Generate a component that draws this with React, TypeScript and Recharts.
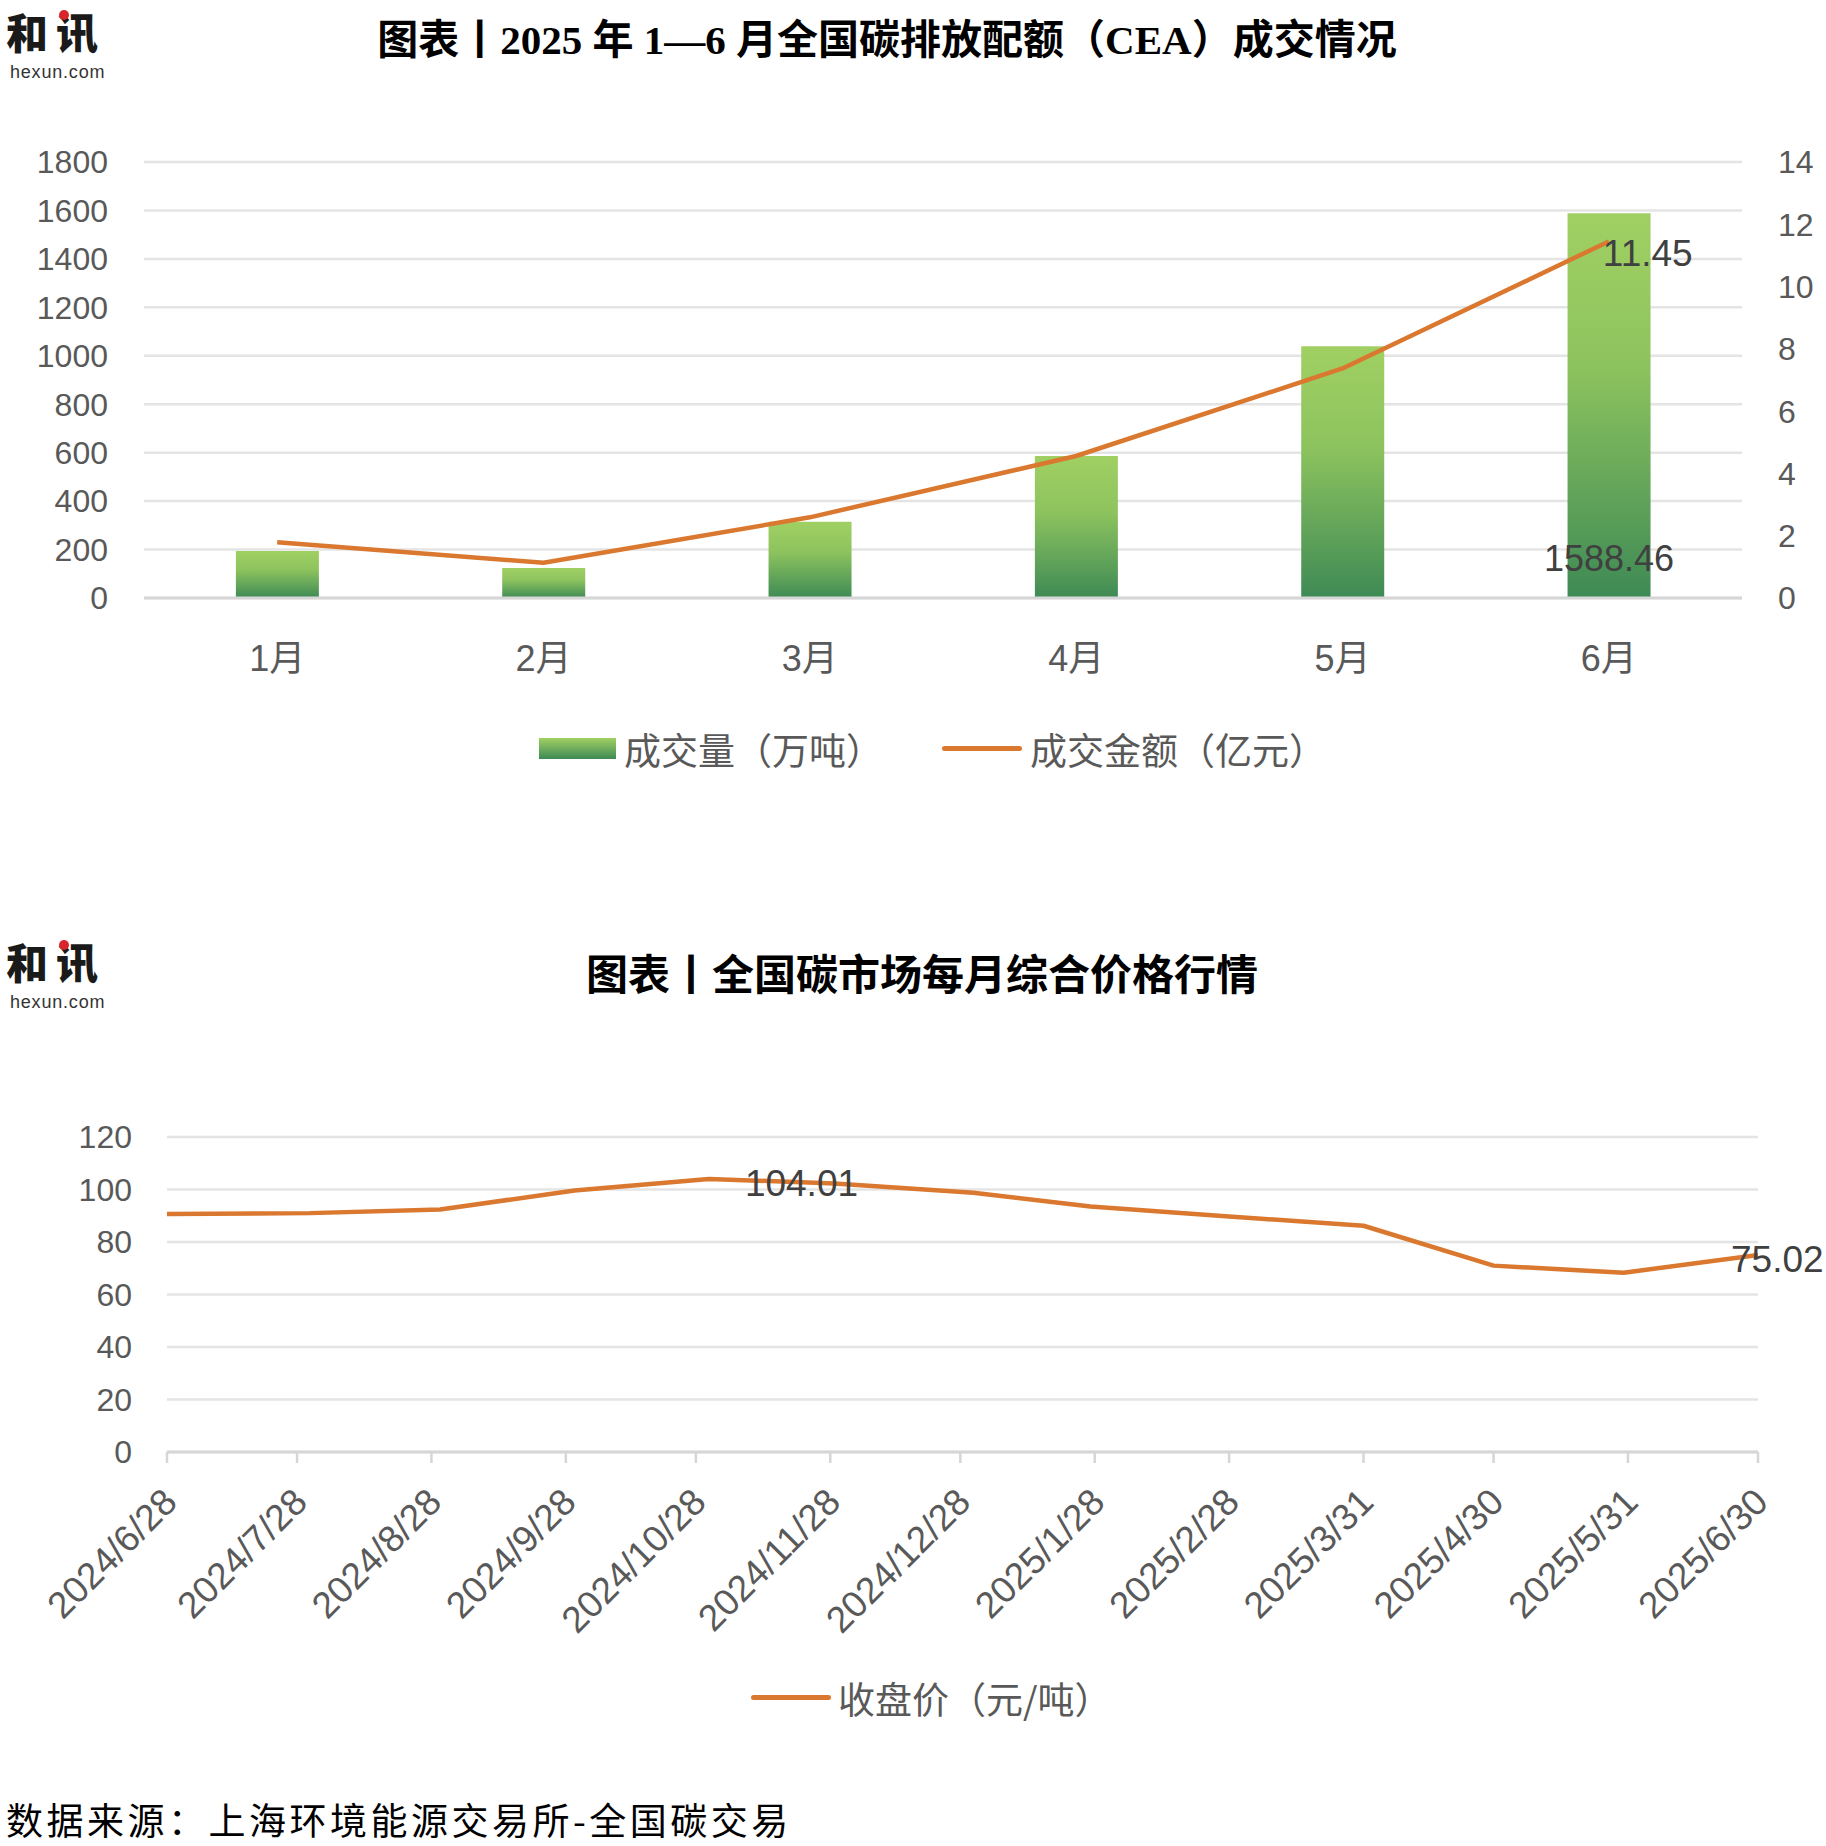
import React from "react";
import {
  ComposedChart,
  LineChart,
  Bar,
  Line,
  XAxis,
  YAxis,
  CartesianGrid,
} from "recharts";

// 图表一：2025年1—6月 CEA 成交情况
const MONTHS = ["1月", "2月", "3月", "4月", "5月", "6月"];
const VOLUME = [194, 124, 315, 586, 1039, 1588.46]; // 成交量（万吨）
const AMOUNT = [1.79, 1.13, 2.59, 4.56, 7.37, 11.45]; // 成交金额（亿元）
const VOLUME_TICKS = [0, 200, 400, 600, 800, 1000, 1200, 1400, 1600, 1800];
const AMOUNT_TICKS = [0, 2, 4, 6, 8, 10, 12, 14];

// 图表二：每月综合价格（收盘价，元/吨）
const PRICE_DATES = [
  "2024-06-28", "2024-07-31", "2024-08-30", "2024-09-30", "2024-10-31",
  "2024-11-29", "2024-12-31", "2025-01-27", "2025-02-28", "2025-03-31",
  "2025-04-30", "2025-05-30", "2025-06-30",
];
const PRICES = [90.7, 91.0, 92.4, 99.6, 104.01, 102.3, 98.8, 93.5, 89.7, 86.2, 71.0, 68.3, 75.02];
const DATE_TICKS = [
  "2024/6/28", "2024/7/28", "2024/8/28", "2024/9/28", "2024/10/28",
  "2024/11/28", "2024/12/28", "2025/1/28", "2025/2/28", "2025/3/31",
  "2025/4/30", "2025/5/31", "2025/6/30",
];
const PRICE_TICKS = [0, 20, 40, 60, 80, 100, 120];

const SANS = "'Liberation Sans', 'Noto Sans CJK SC', sans-serif";
const CJK = "'Noto Sans CJK SC', sans-serif";
const SERIF = "'Liberation Serif', 'Noto Sans CJK SC', serif";
const AXIS_GREY = "#595959";
const LABEL_GREY = "#404040";
const ORANGE = "#DA782F";
const GRID = "#E4E4E4";

const toTime = (s: string) => {
  const [y, m, d] = s.split(/[-/]/).map(Number);
  return Date.UTC(y, m - 1, d);
};

const volumeData = MONTHS.map((m, i) => ({ month: m, volume: VOLUME[i], amount: AMOUNT[i] }));
const priceData = PRICE_DATES.map((d, i) => ({ t: toTime(d), price: PRICES[i] }));
const tickTimes = DATE_TICKS.map(toTime);

const box = (p: any) => {
  const vb = p.viewBox || {};
  return {
    x: p.x ?? vb.x,
    y: p.y ?? vb.y,
    width: p.width ?? vb.width ?? 0,
    height: p.height ?? vb.height ?? 0,
  };
};

// only the last bar gets a value label, sitting near the bar base
const volumeLabel = (p: any) => {
  if (p.index !== VOLUME.length - 1) return null;
  const b = box(p);
  return (
    <text x={b.x + b.width / 2} y={b.y + b.height - 40} dy="0.35em" textAnchor="middle"
      fontSize={36} fill={LABEL_GREY} fontFamily={SANS}>
      {VOLUME[p.index].toFixed(2)}
    </text>
  );
};

const amountLabel = (p: any) => {
  if (p.index !== AMOUNT.length - 1) return null;
  const b = box(p);
  return (
    <text x={b.x - 6} y={b.y + 12} dy="0.35em" textAnchor="start"
      fontSize={37} fill={LABEL_GREY} fontFamily={SANS}>
      {AMOUNT[p.index].toFixed(2)}
    </text>
  );
};

const PRICE_LABEL_DX: Record<number, number> = { 4: 36, 12: -27 };
const priceLabel = (p: any) => {
  const dx = PRICE_LABEL_DX[p.index];
  if (dx === undefined) return null;
  const b = box(p);
  return (
    <text x={b.x + dx} y={b.y + 4} dy="0.35em" textAnchor="start"
      fontSize={37} fill={LABEL_GREY} fontFamily={SANS}>
      {PRICES[p.index].toFixed(2)}
    </text>
  );
};

const DateTick = (p: any) => {
  const idx = tickTimes.indexOf(p.payload.value);
  return (
    <g transform={`translate(${p.x + 3},${p.y + 30})`}>
      <text textAnchor="end" dy="0.35em" transform="rotate(-45)" fontSize={37}
        fill={AXIS_GREY} fontFamily={SANS}>
        {DATE_TICKS[idx]}
      </text>
    </g>
  );
};

const Logo = ({ top }: { top: number }) => (
  <div style={{ position: "absolute", left: 6, top, width: 110, height: 84 }}>
    <div style={{ position: "absolute", left: 0, top: 0, fontFamily: CJK, fontWeight: 900, fontSize: 42, color: "#1a1a1a", letterSpacing: 8, whiteSpace: "nowrap" }}>
      和讯
    </div>
    <div style={{ position: "absolute", left: 53, top: 10, width: 10, height: 10, borderRadius: 5, background: "#D7252B" }} />
    <div style={{ position: "absolute", left: 4, top: 62, fontFamily: SANS, fontSize: 18, color: "#333", letterSpacing: 0.8, whiteSpace: "nowrap" }}>
      hexun.com
    </div>
  </div>
);

const legendText: React.CSSProperties = {
  position: "absolute",
  fontFamily: CJK,
  fontSize: 37,
  lineHeight: "40px",
  color: AXIS_GREY,
  whiteSpace: "nowrap",
};

export default function App() {
  return (
    <div style={{ position: "relative", width: 1826, height: 1846, background: "#fff", overflow: "hidden" }}>
      <style>{`body{margin:0}`}</style>

      <Logo top={0} />
      <div style={{ position: "absolute", left: 0, width: 1774, top: 17, textAlign: "center", fontFamily: SERIF, fontWeight: 700, fontSize: 41, lineHeight: "46px", color: "#000", whiteSpace: "nowrap" }}>
        图表丨2025 年 1—6 月全国碳排放配额（CEA）成交情况
      </div>

      <div style={{ position: "absolute", left: 0, top: 0 }}>
        <ComposedChart width={1826} height={800} data={volumeData}
          margin={{ top: 162, right: 4, bottom: 142, left: 0 }} barCategoryGap="34.5%">
          <defs>
            <linearGradient id="barGreen" x1="0" y1="0" x2="0" y2="1">
              <stop offset="0%" stopColor="#A0D063" />
              <stop offset="40%" stopColor="#8DC35E" />
              <stop offset="100%" stopColor="#3E8A55" />
            </linearGradient>
          </defs>
          <CartesianGrid vertical={false} stroke={GRID} strokeWidth={2.5} />
          <XAxis dataKey="month" axisLine={{ stroke: "#D6D6D6", strokeWidth: 3 }} tickLine={false}
            tickMargin={41} height={60} interval={0}
            tick={{ fill: AXIS_GREY, fontSize: 36, fontFamily: SANS }} />
          <YAxis width={144} domain={[0, 1800]} ticks={VOLUME_TICKS} axisLine={false} tickLine={false}
            tickMargin={30} interval={0} tick={{ fill: AXIS_GREY, fontSize: 32, fontFamily: SANS }} />
          <YAxis yAxisId="right" orientation="right" width={80} domain={[0, 14]} ticks={AMOUNT_TICKS}
            axisLine={false} tickLine={false} tickMargin={30} interval={0}
            tick={{ fill: AXIS_GREY, fontSize: 32, fontFamily: SANS }} />
          <Bar dataKey="volume" fill="url(#barGreen)" isAnimationActive={false} label={volumeLabel} />
          <Line yAxisId="right" dataKey="amount" stroke={ORANGE} strokeWidth={4.5} dot={false} activeDot={false}
            strokeLinejoin="round" isAnimationActive={false} label={amountLabel} />
        </ComposedChart>
      </div>

      {/* legend, chart 1 */}
      <div style={{ position: "absolute", left: 539, top: 738, width: 77, height: 21, background: "linear-gradient(#A0D063, #3E8A55)" }} />
      <div style={{ ...legendText, left: 624, top: 729 }}>成交量（万吨）</div>
      <div style={{ position: "absolute", left: 942, top: 746, width: 80, height: 5, borderRadius: 3, background: ORANGE }} />
      <div style={{ ...legendText, left: 1030, top: 729 }}>成交金额（亿元）</div>

      <Logo top={930} />
      <div style={{ position: "absolute", left: 0, width: 1844, top: 953, textAlign: "center", fontFamily: SERIF, fontWeight: 700, fontSize: 42, lineHeight: "46px", color: "#000", whiteSpace: "nowrap" }}>
        图表丨全国碳市场每月综合价格行情
      </div>

      <div style={{ position: "absolute", left: 0, top: 1000 }}>
        <LineChart width={1826} height={660} data={priceData}
          margin={{ top: 137, right: 68, bottom: 28, left: 0 }}>
          <CartesianGrid vertical={false} stroke={GRID} strokeWidth={2.5} />
          <XAxis dataKey="t" type="number" domain={[tickTimes[0], tickTimes[tickTimes.length - 1]]}
            ticks={tickTimes} interval={0} height={180} tickSize={11}
            axisLine={{ stroke: "#D6D6D6", strokeWidth: 3 }} tickLine={{ stroke: "#D6D6D6", strokeWidth: 2.5 }}
            tick={<DateTick />} />
          <YAxis width={167} domain={[0, 120]} ticks={PRICE_TICKS} axisLine={false} tickLine={false}
            tickMargin={29} interval={0} tick={{ fill: AXIS_GREY, fontSize: 32, fontFamily: SANS }} />
          <Line dataKey="price" stroke={ORANGE} strokeWidth={4.5} dot={false} activeDot={false}
            strokeLinejoin="round" isAnimationActive={false} label={priceLabel} />
        </LineChart>
      </div>

      {/* legend, chart 2 */}
      <div style={{ position: "absolute", left: 751, top: 1695, width: 80, height: 5, borderRadius: 3, background: ORANGE }} />
      <div style={{ ...legendText, left: 838, top: 1678 }}>收盘价（元/吨）</div>

      <div style={{ position: "absolute", left: 6, top: 1792, fontFamily: CJK, fontSize: 37, letterSpacing: 3.5, color: "#000", whiteSpace: "nowrap" }}>
        数据来源：上海环境能源交易所-全国碳交易
      </div>
    </div>
  );
}
